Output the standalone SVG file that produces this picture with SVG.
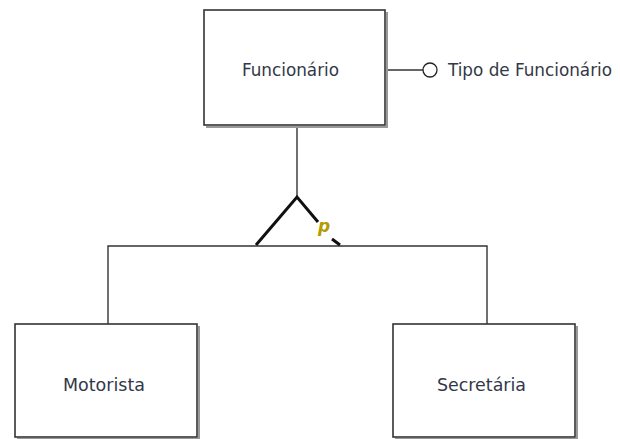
<svg xmlns="http://www.w3.org/2000/svg" width="620" height="439" viewBox="0 0 620 439">
<style>
.ent{fill:#fff;stroke:#333;stroke-width:1.6}
.sh{fill:none;stroke:#999;stroke-width:2}
.lbl{font-family:"DejaVu Sans Condensed","DejaVu Sans",Verdana,sans-serif;font-stretch:condensed;font-size:17px;fill:#333848}
.ln{stroke:#333;stroke-width:1.4;fill:none}
</style>
<rect width="620" height="439" fill="#fff"/>
<g id="connectors">
<line class="ln" x1="386" y1="70" x2="423" y2="70"/>
<line class="ln" x1="297" y1="126" x2="297" y2="196"/>
<polyline class="ln" points="108,324 108,246 487,246 487,324"/>
<path d="M256,245 L297,197 L318,222 M332,239 L340,245" fill="none" stroke="#111" stroke-width="3"/>
<text x="318" y="232" font-family="DejaVu Sans,sans-serif" font-size="17" font-style="italic" font-weight="bold" fill="#b39b00">p</text>
</g>
<g id="funcionario">
<polyline class="sh" points="387,12 387,127 206,127"/>
<rect class="ent" x="204" y="10" width="181" height="115"/>
<text class="lbl" x="242" y="76" textLength="97" lengthAdjust="spacingAndGlyphs">Funcionário</text>
</g>
<g id="tipo">
<circle cx="430" cy="70" r="7" fill="#fff" stroke="#222" stroke-width="1.3"/>
<text class="lbl" x="448" y="76" textLength="164" lengthAdjust="spacingAndGlyphs">Tipo de Funcionário</text>
</g>
<g id="motorista">
<polyline class="sh" points="199,326 199,439 17,439"/>
<rect class="ent" x="15" y="324" width="182" height="113"/>
<text class="lbl" x="63" y="391" textLength="82" lengthAdjust="spacingAndGlyphs">Motorista</text>
</g>
<g id="secretaria">
<polyline class="sh" points="577,326 577,439 395,439"/>
<rect class="ent" x="393" y="324" width="182" height="113"/>
<text class="lbl" x="437" y="391" textLength="89" lengthAdjust="spacingAndGlyphs">Secretária</text>
</g>
</svg>
